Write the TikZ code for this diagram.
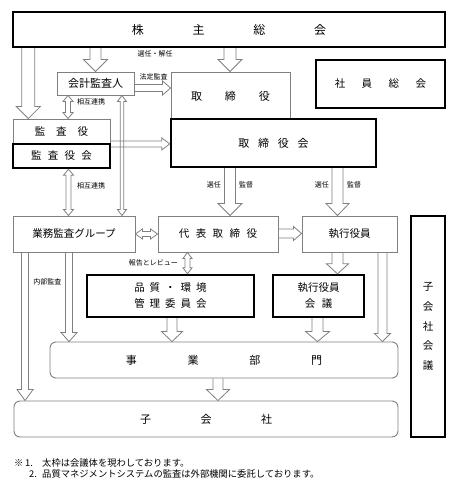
\documentclass[tikz,border=0pt]{standalone}
\usepackage{fontspec}
\setmainfont{Noto Sans CJK JP}
\usetikzlibrary{calc}
\definecolor{boxgray}{RGB}{128,128,128}
\tikzset{
 thinbox/.style={draw=boxgray, line width=0.9pt, fill=white, inner sep=0pt, align=center},
 thickbox/.style={draw=black, line width=2.4pt, fill=white, inner sep=0pt, align=center},
 roundbox/.style={draw=boxgray, line width=0.9pt, fill=white, rounded corners=6pt, inner sep=0pt},
 blkarrow/.style={draw=boxgray, line width=0.8pt, line join=miter},
 lbl/.style={font=\fontsize{7}{8}\selectfont, inner sep=0pt},
 txt/.style={font=\fontsize{10.5}{12}\selectfont},
 txtb/.style={font=\fontsize{11}{13}\selectfont},
 note/.style={font=\fontsize{9.3}{10}\selectfont, inner sep=0pt, anchor=west},
}
\newcommand\blkar[5]{%
 \coordinate (bA) at (#1);\coordinate (bB) at (#2);
 \coordinate (bH) at ($(bB)!#5pt!(bA)$);
 \draw[blkarrow] ($(bA)!#3pt!90:(bB)$) -- ($(bH)!#3pt!90:(bB)$) -- ($(bH)!#4pt!90:(bB)$) -- (bB) -- ($(bH)!#4pt!-90:(bB)$) -- ($(bH)!#3pt!-90:(bB)$) -- ($(bA)!#3pt!-90:(bB)$);
}
\newcommand\dblar[5]{%
 \coordinate (bA) at (#1);\coordinate (bB) at (#2);
 \coordinate (bH) at ($(bB)!#5pt!(bA)$);
 \coordinate (bG) at ($(bA)!#5pt!(bB)$);
 \draw[blkarrow] (bA) -- ($(bG)!#4pt!90:(bB)$) -- ($(bG)!#3pt!90:(bB)$) -- ($(bH)!#3pt!90:(bB)$) -- ($(bH)!#4pt!90:(bB)$) -- (bB) -- ($(bH)!#4pt!-90:(bB)$) -- ($(bH)!#3pt!-90:(bB)$) -- ($(bG)!#3pt!-90:(bB)$) -- ($(bG)!#4pt!-90:(bB)$) -- cycle;
}
\begin{document}
\begin{tikzpicture}[x=1pt,y=-1pt]
\useasboundingbox[fill=white] (0,0) rectangle (459,480);

% boxes
\node[thickbox, minimum width=432pt, minimum height=35pt, font=\fontsize{12}{14}\selectfont] (kabu) at (229,29.5) {株\hspace{48.7pt}主\hspace{48.7pt}総\hspace{48.7pt}会};
\node[thickbox, txt, minimum width=129pt, minimum height=48pt] (shain) at (380.5,84) {社\hspace{16.5pt}員\hspace{16.5pt}総\hspace{16.5pt}会};
\node[thinbox, txtb, minimum width=77pt, minimum height=23pt] (kaikei) at (95.5,83.5) {会計監査人};
\node[thinbox, txtb, minimum width=119pt, minimum height=48pt] (tori) at (230.5,96) {取\hspace{23pt}締\hspace{23pt}役};
\node[thickbox, txtb, minimum width=205pt, minimum height=48pt] (torikai) at (273.5,143) {取\hspace{8.7pt}締\hspace{8.7pt}役\hspace{8.7pt}会};
\node[thinbox, txt, minimum width=97pt, minimum height=25pt] (kansa) at (61.5,131.5) {監\hspace{11pt}査\hspace{11pt}役};
\node[thickbox, txt, minimum width=97pt, minimum height=24pt] (kansakai) at (61.5,156) {監\hspace{6.2pt}査\hspace{6.2pt}役\hspace{6.2pt}会};
\node[thinbox, txt, minimum width=122pt, minimum height=36pt] (gyomu) at (74,234) {業務監査グループ};
\node[thinbox, txt, minimum width=120pt, minimum height=36pt] (daihyo) at (218,234) {代\hspace{6.5pt}表\hspace{6.5pt}取\hspace{6.5pt}締\hspace{6.5pt}役};
\node[thinbox, txt, minimum width=95pt, minimum height=36pt] (shikko) at (349.5,234) {執行役員};
\node[thickbox, font=\fontsize{10.5}{16}\selectfont, minimum width=167pt, minimum height=42pt] (hinshitsu) at (170.5,296) {品\hspace{5pt}質\hspace{5pt}・\hspace{5pt}環\hspace{5pt}境\\管\hspace{5pt}理\hspace{5pt}委\hspace{5pt}員\hspace{5pt}会};
\node[thickbox, font=\fontsize{10.5}{16}\selectfont, minimum width=91pt, minimum height=42pt] (shikkokaigi) at (318.5,296) {執行役員\\会\hspace{6.5pt}議};
\node[roundbox, txtb, minimum width=348pt, minimum height=36pt] (jigyo) at (224,360) {事\hspace{50.7pt}業\hspace{50.7pt}部\hspace{50.7pt}門};
\node[roundbox, txtb, minimum width=384pt, minimum height=36pt] (kogaisha) at (206,419) {子\hspace{49.5pt}会\hspace{49.5pt}社};
\node[thickbox, font=\fontsize{10.5}{19.75}\selectfont, minimum width=34pt, minimum height=221pt] (kokaigi) at (428,326.5) {子\\会\\社\\会\\議};

% arrows from general meeting
\coordinate (s1) at ([xshift=16.5pt]kabu.south west);
\blkar{s1}{s1 |- kansa.north}{6.5}{12}{12}
\blkar{kabu.south -| kaikei.north}{kaikei.north}{5.5}{12}{12}
\coordinate (s3) at ([xshift=-0.5pt]tori.north);
\blkar{s3 |- kabu.south}{s3}{6}{12}{12}
\node[lbl] (l1) at (155,54) {選任・解任};

% accounting auditor
\coordinate (s4) at ([yshift=-4.5pt]kaikei.east);
\blkar{s4}{s4 -| tori.west}{3.5}{7}{8}
\node[lbl] (l2) at (153.5,77) {法定監査};
\coordinate (s6) at ([xshift=11.5pt]kaikei.south west);
\dblar{s6}{s6 |- kansa.north}{2.5}{5}{6}
\node[lbl, anchor=west] (l3) at (77,102) {相互連携};
\coordinate (s8) at ([xshift=-12.5pt]kaikei.south east);
\dblar{s8}{s8 |- gyomu.north}{1.8}{4.5}{6}

% auditors
\coordinate (s5) at ([yshift=0.5pt]kansa.south east);
\blkar{s5}{s5 -| torikai.west}{3}{6}{8}
\coordinate (s7) at ([xshift=7pt]kansakai.south);
\dblar{s7}{s7 |- gyomu.north}{2.5}{5}{6}
\node[lbl, anchor=west] (l4) at (77,186) {相互連携};

% board
\coordinate (s9) at ([xshift=-0.5pt]tori.south);
\blkar{s9 |- torikai.south}{s9 |- daihyo.north}{5.5}{12}{12}
\node[lbl, anchor=east] (l5) at (221,185) {選任};
\node[lbl, anchor=west] (l6) at (239,185) {監督};
\coordinate (s10) at ([xshift=-12pt]shikko.north);
\blkar{s10 |- torikai.south}{s10}{5.5}{11.5}{12}
\node[lbl, anchor=east] (l7) at (329,185) {選任};
\node[lbl, anchor=west] (l8) at (347,185) {監督};

% middle row
\dblar{gyomu.east}{daihyo.west}{2.5}{5}{7}
\coordinate (s12) at ([yshift=0.5pt]daihyo.east);
\blkar{s12}{s12 -| shikko.west}{4.5}{7}{8}
\coordinate (s13) at ([xshift=17pt]hinshitsu.north);
\dblar{s13 |- daihyo.south}{s13}{2.5}{4.5}{6}
\node[lbl, anchor=east] (l9) at (178,263) {報告とレビュー};
\coordinate (s14) at ([xshift=19pt]shikkokaigi.north);
\blkar{s14 |- shikko.south}{s14}{5.5}{11}{10}
\coordinate (s15) at ([xshift=-15pt]shikko.south east);
\blkar{s15}{s15 |- jigyo.north}{4.5}{8}{8}

% lower arrows
\coordinate (s16) at ([xshift=1.5pt]hinshitsu.south);
\blkar{s16}{s16 |- jigyo.north}{5}{10.5}{10}
\coordinate (s17) at ([xshift=-1pt]shikkokaigi.south);
\blkar{s17}{s17 |- jigyo.north}{5.5}{12}{10}
\coordinate (s18) at ([xshift=12.5pt]gyomu.south west);
\blkar{s18}{s18 |- kogaisha.north}{3.5}{8}{11}
\coordinate (s19) at ([xshift=56.5pt]gyomu.south west);
\blkar{s19}{s19 |- jigyo.north}{3.5}{8}{9}
\node[lbl] (l10) at (47.5,282) {内部監査};
\coordinate (s20) at ([xshift=-6pt]jigyo.south);
\blkar{s20}{s20 |- kogaisha.north}{5}{11.5}{11}

% notes
\node[note] (n1) at (14,463) {※};
\node[note] (n2) at (25,463) {1.};
\node[note] (n3) at (42,463) {太枠は会議体を現わしております。};
\node[note] (n4) at (29,474) {2.};
\node[note] (n5) at (42,474) {品質マネジメントシステムの監査は外部機関に委託しております。};
\end{tikzpicture}
\end{document}
